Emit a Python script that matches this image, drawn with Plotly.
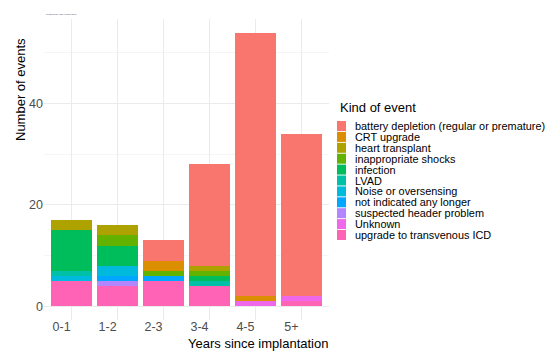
import plotly.graph_objects as go

# ---- data ----
categories = ["0-1", "1-2", "2-3", "3-4", "4-5", "5+"]
event_kinds = [
    "battery depletion (regular or premature)",
    "CRT upgrade",
    "heart transplant",
    "inappropriate shocks",
    "infection",
    "LVAD",
    "Noise or oversensing",
    "not indicated any longer",
    "suspected header problem",
    "Unknown",
    "upgrade to transvenous ICD",
]
battery_depletion = [0, 0, 4, 20, 52, 32]
crt_upgrade = [0, 0, 2, 0, 1, 0]
heart_transplant = [2, 2, 0, 1, 0, 0]
inappropriate_shocks = [0, 2, 1, 1, 0, 0]
infection = [8, 4, 0, 1, 0, 0]
lvad = [1, 0, 0, 1, 0, 0]
noise_oversensing = [1, 2, 0, 0, 0, 0]
not_indicated = [0, 1, 1, 0, 0, 0]
header_problem = [0, 1, 0, 0, 0, 0]
unknown = [0, 0, 0, 0, 1, 1]
upgrade_transvenous = [5, 4, 5, 4, 0, 1]
y_ticks = [0, 20, 40]

series = [battery_depletion, crt_upgrade, heart_transplant, inappropriate_shocks,
          infection, lvad, noise_oversensing, not_indicated, header_problem,
          unknown, upgrade_transvenous]
colors = ["#F8766D", "#DB8E00", "#AEA200", "#64B200", "#00BD5C", "#00C1A7",
          "#00BADE", "#00A6FF", "#B385FF", "#EF67EB", "#FF63B6"]

W, H = 560, 364
OFF = 8  # page body margin
PW, PH = 285, 301
L, T = 44 - OFF, 19 - OFF
R, B = W - L - PW, H - T - PH

def px_x(p):
    return (p - OFF - L) / PW

def px_y(p):
    return 1 - (p - OFF - T) / PH

fig = go.Figure()
# stack: last legend level at the bottom
for name, vals, col in reversed(list(zip(event_kinds, series, colors))):
    fig.add_trace(go.Bar(x=categories, y=vals, name=name, marker_color=col,
                         marker_line_width=0, showlegend=False))

fig.update_layout(
    width=W, height=H, barmode="stack", bargap=0.11,
    margin=dict(l=L, r=R, t=T, b=B, autoexpand=False),
    plot_bgcolor="white", paper_bgcolor="white",
    font=dict(family="Liberation Sans, Arial, sans-serif"),
    xaxis=dict(range=[-0.6, 5.6], showgrid=True, gridcolor="#EBEBEB", gridwidth=1,
               tickfont=dict(size=12.5, color="#4D4D4D"), ticks="", zeroline=False,
               ticklabelshift=-10, ticklabelstandoff=-3, showline=False, automargin=False),
    yaxis=dict(range=[-2.7, 56.7], tickvals=y_ticks, showgrid=True, gridcolor="#EBEBEB",
               gridwidth=1, zeroline=False, ticks="", automargin=False,
               tickfont=dict(size=12.5, color="#4D4D4D"),
               minor=dict(dtick=10, tick0=0, showgrid=True, gridcolor="#F5F5F5", gridwidth=0.6)),
)

# axis titles
fig.add_annotation(text="Years since implantation", xref="paper", yref="paper",
                   x=px_x(258), y=px_y(343), xanchor="center", yanchor="middle",
                   showarrow=False, font=dict(size=13, color="black"))
fig.add_annotation(text="Number of events", xref="paper", yref="paper",
                   x=px_x(20), y=px_y(90), xanchor="center", yanchor="middle",
                   showarrow=False, textangle=-90, font=dict(size=13, color="black"))
# tiny title
fig.add_annotation(text="Reasons for ICD replacement", xref="paper", yref="paper",
                   x=px_x(44), y=px_y(14), xanchor="left", yanchor="middle", showarrow=False,
                   font=dict(size=2.3, color="#555555"))

# manual legend
fig.add_annotation(text="Kind of event", xref="paper", yref="paper",
                   x=px_x(338), y=px_y(107), xanchor="left", yanchor="middle", showarrow=False,
                   font=dict(size=13, color="black"))
step = 10.9
for i, (name, col) in enumerate(zip(event_kinds, colors)):
    cy = 126 + i * step
    fig.add_shape(type="rect", xref="paper", yref="paper",
                  x0=px_x(337), x1=px_x(346), y0=px_y(cy - 5), y1=px_y(cy + 5),
                  fillcolor=col, line_width=0)
    fig.add_annotation(text=name, xref="paper", yref="paper",
                       x=px_x(353), y=px_y(cy), xanchor="left", yanchor="middle",
                       showarrow=False, font=dict(size=10.9, color="black"))

fig.write_html("out.html")
